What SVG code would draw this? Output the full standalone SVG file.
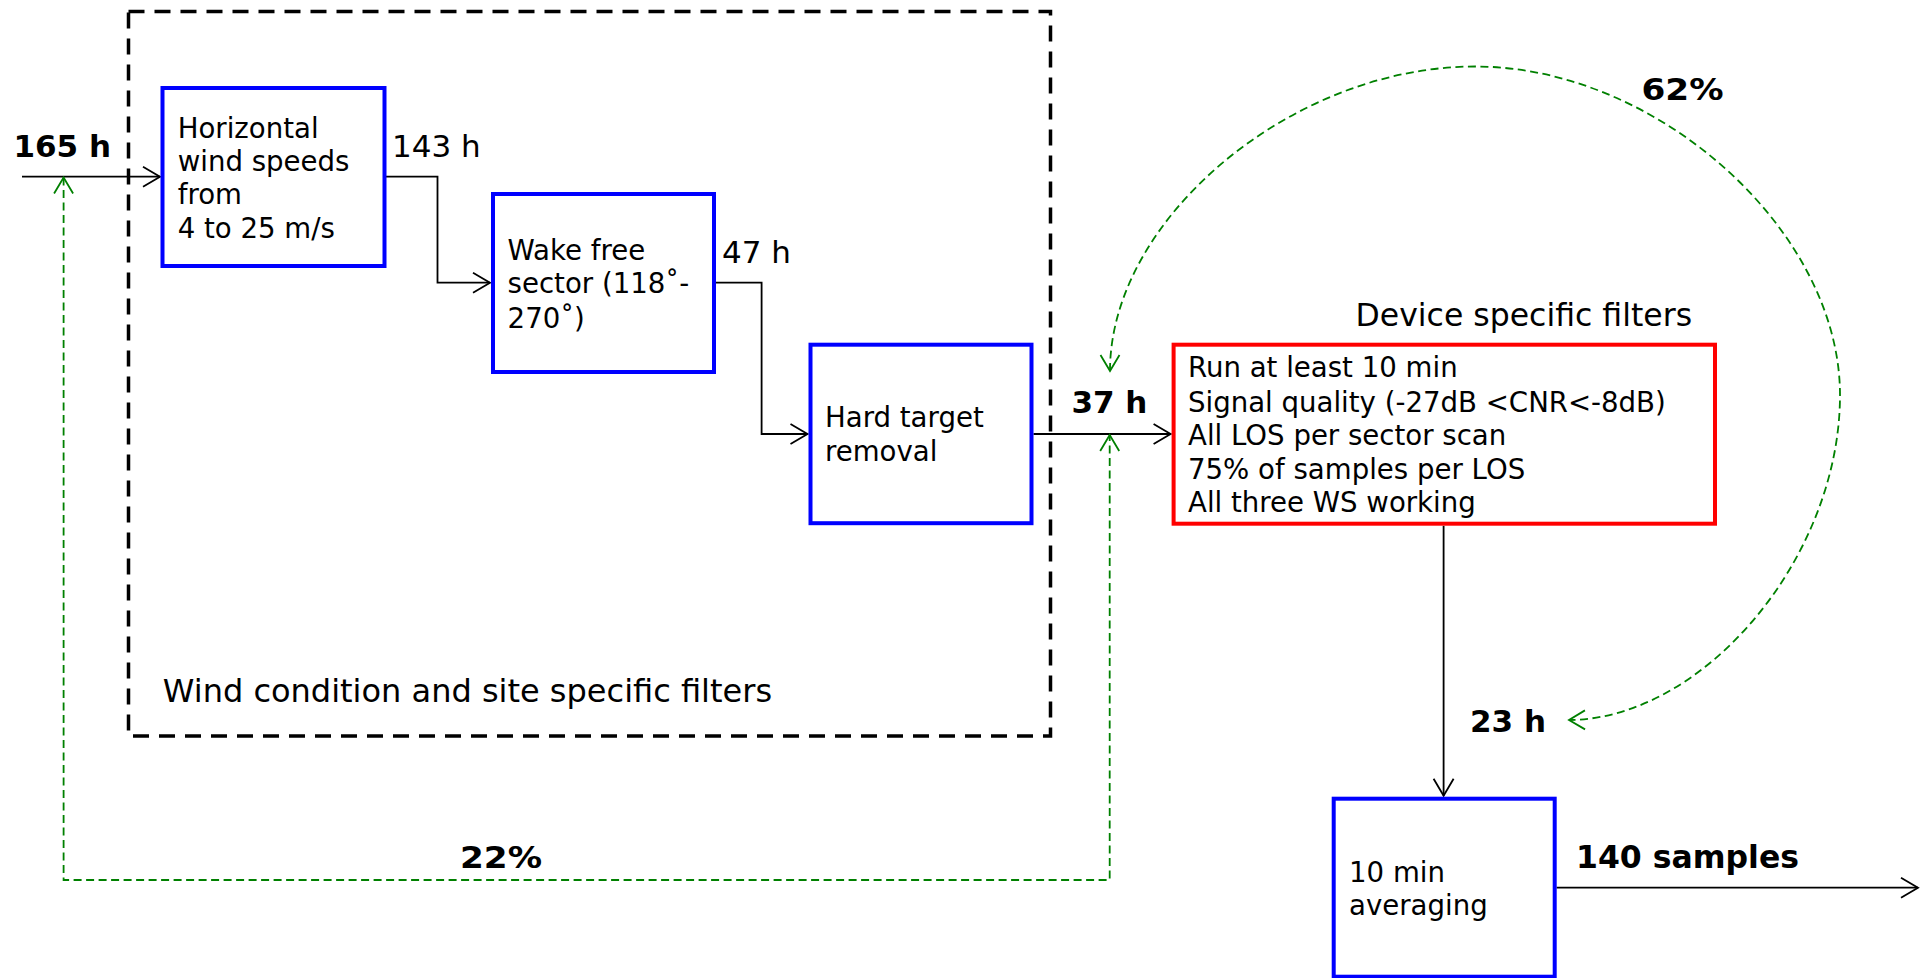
<svg xmlns="http://www.w3.org/2000/svg" width="1920" height="978" viewBox="0 0 1920 978">
<style>
text{font-family:"DejaVu Sans","Verdana",sans-serif;fill:#000}
.b{font-size:27.6px}
.h{font-size:31px}
.hb{font-size:31px;font-weight:bold}
.t{font-size:31.5px}
.blue{fill:#fff;stroke:#0000ff;stroke-width:4}
.red{fill:#fff;stroke:#ff0000;stroke-width:4}
.con{fill:none;stroke:#000;stroke-width:1.8}
.grn{fill:none;stroke:#008000;stroke-width:1.8;stroke-dasharray:8 4.5}
</style>
<defs>
<marker id="ab" markerUnits="userSpaceOnUse" markerWidth="24" markerHeight="24" viewBox="0 0 24 24" refX="19" refY="12" orient="auto-start-reverse"><path d="M2,2 L19,12 L2,22" fill="none" stroke="#000" stroke-width="1.8"/></marker>
<marker id="ag" markerUnits="userSpaceOnUse" markerWidth="24" markerHeight="24" viewBox="0 0 24 24" refX="19" refY="12" orient="auto-start-reverse"><path d="M3,2.5 L19,12 L3,21.5" fill="none" stroke="#008000" stroke-width="1.8"/></marker>
</defs>

<g id="group-site">
<rect x="128.5" y="11.5" width="922" height="724.5" fill="none" stroke="#000" stroke-width="3.5" stroke-dasharray="16 10"/>
<text class="t" x="162.8" y="701.7" style="font-size:32px">Wind condition and site specific filters</text>
</g>

<g id="connectors">
<path class="con" d="M22,176.7 H160" marker-end="url(#ab)"/>
<path class="con" d="M386,176.7 H437.5 V282.7 H490" marker-end="url(#ab)"/>
<path class="con" d="M716,282.7 H761.6 V434 H807.5" marker-end="url(#ab)"/>
<path class="con" d="M1033.5,434 H1170.6" marker-end="url(#ab)"/>
<path class="con" d="M1443.6,525.7 V795.7" marker-end="url(#ab)"/>
<path class="con" d="M1556.6,887.7 H1918" marker-end="url(#ab)"/>
<path class="grn" d="M63.6,177.5 V880 H1109.7 V435" marker-start="url(#ag)" marker-end="url(#ag)"/>
<path class="grn" d="M1110,371 C1110,218.5 1292.5,66.5 1475,66.5 C1657.5,66.5 1840,230.75 1840,395 C1840,557.5 1704,719 1569,720" marker-start="url(#ag)" marker-end="url(#ag)"/>
</g>

<g id="label-165">
<text class="hb" x="13.4" y="157.3">165 h</text>
</g>
<g id="node-horizontal">
<rect class="blue" x="162.5" y="88" width="222" height="178"/>
<text class="b" x="177.7" y="137.7">Horizontal</text>
<text class="b" x="177.7" y="170.7">wind speeds</text>
<text class="b" x="177.7" y="204">from</text>
<text class="b" x="177.7" y="238.3">4 to 25 m/s</text>
</g>
<g id="label-143"><text class="h" x="392" y="157.3">143 h</text></g>
<g id="node-wake">
<rect class="blue" x="493" y="194" width="221" height="178"/>
<text class="b" x="507.6" y="260">Wake free</text>
<text class="b" x="507.6" y="293.3">sector (118˚-</text>
<text class="b" x="507.6" y="328">270˚)</text>
</g>
<g id="label-47"><text class="h" x="722" y="263.3">47 h</text></g>
<g id="node-hard">
<rect class="blue" x="810.5" y="344.7" width="221" height="178.5"/>
<text class="b" x="825" y="427.3">Hard target</text>
<text class="b" x="825" y="460.7">removal</text>
</g>
<g id="label-37"><text class="hb" x="1071.4" y="413.3">37 h</text></g>
<g id="node-device">
<text class="t" x="1355.6" y="325.7">Device specific filters</text>
<rect class="red" x="1173.6" y="344.7" width="541.4" height="179"/>
<text class="b" x="1188" y="377.3">Run at least 10 min</text>
<text class="b" x="1188" y="411.7">Signal quality (-27dB &lt;CNR&lt;-8dB)</text>
<text class="b" x="1188" y="445">All LOS per sector scan</text>
<text class="b" x="1188" y="479">75% of samples per LOS</text>
<text class="b" x="1188" y="511.7">All three WS working</text>
</g>
<g id="label-62"><text class="hb" x="1641.5" y="100" textLength="82" lengthAdjust="spacingAndGlyphs">62%</text></g>
<g id="label-23"><text class="hb" x="1470" y="732.3">23 h</text></g>
<g id="label-22"><text class="hb" x="460" y="868.3" textLength="82" lengthAdjust="spacingAndGlyphs">22%</text></g>
<g id="node-averaging">
<rect class="blue" x="1333.7" y="798.7" width="221" height="178"/>
<text class="b" x="1349" y="881.7">10 min</text>
<text class="b" x="1349" y="915">averaging</text>
</g>
<g id="label-140"><text class="hb" x="1576" y="868.3" style="font-size:31.5px">140 samples</text></g>
</svg>
